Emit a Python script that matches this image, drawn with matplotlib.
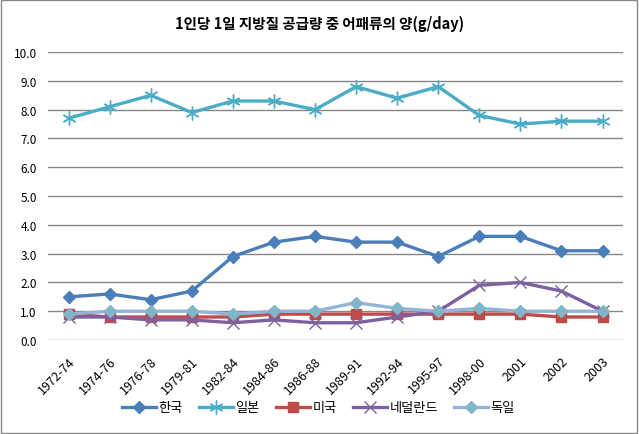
import matplotlib.pyplot as plt
from matplotlib.patches import Rectangle

plt.rcParams['font.family'] = ['Noto Sans CJK KR', 'DejaVu Sans']

periods = ["1972-74", "1974-76", "1976-78", "1979-81", "1982-84", "1984-86", "1986-88",
           "1989-91", "1992-94", "1995-97", "1998-00", "2001", "2002", "2003"]
korea = [1.5, 1.6, 1.4, 1.7, 2.9, 3.4, 3.6, 3.4, 3.4, 2.9, 3.6, 3.6, 3.1, 3.1]
japan = [7.7, 8.1, 8.5, 7.9, 8.3, 8.3, 8.0, 8.8, 8.4, 8.8, 7.8, 7.5, 7.6, 7.6]
usa = [0.9, 0.8, 0.8, 0.8, 0.8, 0.9, 0.9, 0.9, 0.9, 0.9, 0.9, 0.9, 0.8, 0.8]
netherlands = [0.8, 0.8, 0.7, 0.7, 0.6, 0.7, 0.6, 0.6, 0.8, 1.0, 1.9, 2.0, 1.7, 1.0]
germany = [0.9, 1.0, 1.0, 1.0, 0.9, 1.0, 1.0, 1.3, 1.1, 1.0, 1.1, 1.0, 1.0, 1.0]

fig = plt.figure(figsize=(6.39, 4.35), dpi=100)
ax = fig.add_axes([0.0751, 0.216, 0.9, 0.662])

x = list(range(len(periods)))
lw = 2.4
ax.plot(x, korea, color='#4A7EBB', lw=lw, marker='D', ms=6, label='한국', zorder=3)
ax.plot(x, japan, color='#4BACC6', lw=lw, marker=(6, 2, 0), ms=10, mew=1.0, label='일본', zorder=3)
ax.plot(x, usa, color='#BE4B48', lw=lw, marker='s', ms=7, label='미국', zorder=3)
ax.plot(x, netherlands, color='#7D60A0', lw=lw, marker='x', ms=9, mew=1.0, label='네덜란드', zorder=3)
ax.plot(x, germany, color='#95B3D7', lw=lw, marker='D', ms=6, mfc='#7FB6C8', mec='#7FB6C8',
        label='독일', zorder=4)

ax.set_xlim(-0.5, len(periods) - 0.5)
ax.set_ylim(0, 10)
ax.set_yticks([i for i in range(11)])
ax.set_yticklabels([f"{i:.1f}" for i in range(11)], fontsize=8.5)
ax.set_xticks(x)
ax.set_xticklabels(periods, rotation=45, ha='right', rotation_mode='anchor', fontsize=9)
ax.tick_params(axis='y', length=0, pad=8)
ax.tick_params(axis='x', length=0, pad=10)
ax.grid(axis='y', color='#868686', lw=1)
ax.set_axisbelow(True)
for s in ax.spines.values():
    s.set_visible(False)

fig.text(0.5, 0.945, '1인당 1일 지방질 공급량 중 어패류의 양(g/day)', ha='center', va='center',
         fontsize=10.5, fontweight='bold')
ax.legend(loc='center', bbox_to_anchor=(0.47, -0.235), ncol=5, frameon=False,
          fontsize=9.5, handlelength=2.6, columnspacing=1.2, handletextpad=0.2)

fig.patches.append(Rectangle((0.002, 0.003), 0.995, 0.994, transform=fig.transFigure,
                             fill=False, edgecolor='#888888', lw=1))

fig.savefig('out.png', dpi=100)
